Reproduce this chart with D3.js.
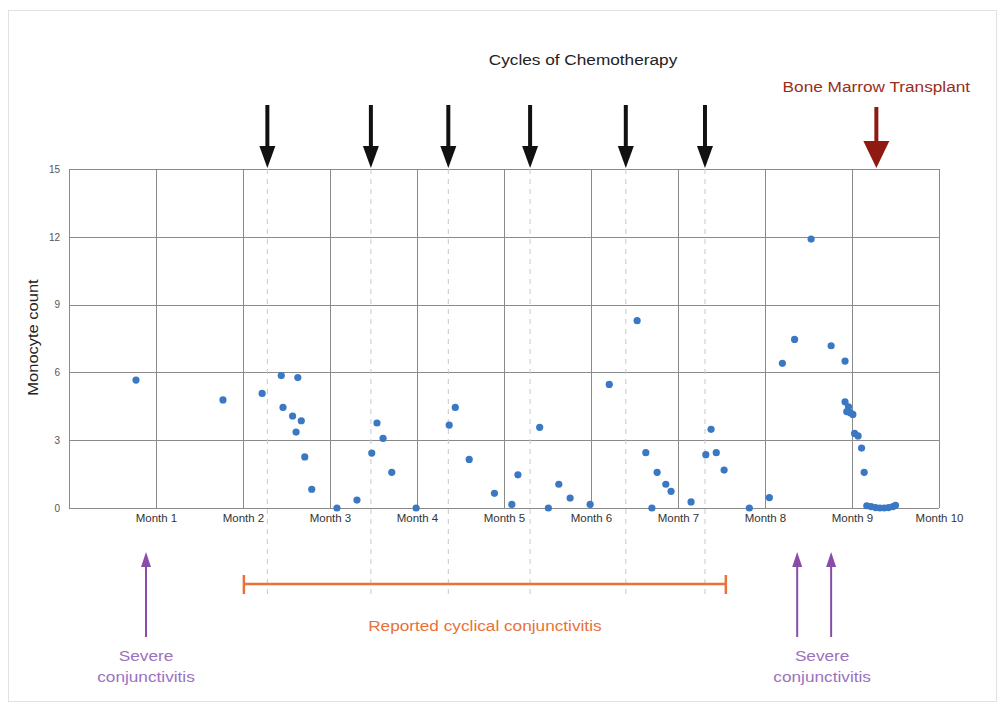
<!DOCTYPE html>
<html><head><meta charset="utf-8">
<script src="https://cdn.jsdelivr.net/npm/d3@7"></script>
<style>body{margin:0;background:#fff}svg{display:block;font-family:"Liberation Sans",Arial,sans-serif}</style>
</head><body><svg id="c" width="1004" height="706"></svg>
<script>
const months = [0.77,1.77,2.22,2.44,2.63,2.46,2.57,2.67,2.61,2.71,2.79,3.08,3.31,3.54,3.61,3.48,3.71,3.99,4.44,4.37,4.60,
4.89,5.09,5.16,5.41,5.51,5.63,5.76,5.99,6.21,6.53,6.63,6.70,6.76,6.86,6.92,7.15,7.32,7.38,7.44,7.53,
7.82,8.05,8.20,8.34,8.53,8.76,8.92,8.92,8.96,8.94,8.98,9.01,9.03,9.07,9.11,9.14,9.17,9.22,9.27,9.32,9.37,9.42,9.47,9.50];
const counts = [5.66,4.78,5.07,5.86,5.77,4.45,4.07,3.86,3.36,2.26,0.83,0,0.35,3.76,3.08,2.43,1.58,0,4.45,3.67,2.15,
0.65,0.16,1.47,3.57,0,1.05,0.44,0.16,5.47,8.29,2.45,0,1.58,1.05,0.74,0.27,2.36,3.48,2.45,1.68,
0,0.46,6.4,7.46,11.9,7.18,6.5,4.7,4.48,4.26,4.22,4.14,3.3,3.19,2.65,1.58,0.1,0.06,0.02,0,0,0.02,0.06,0.12];
const yTicks = [0,3,6,9,12,15];
const monthTicks = [1,2,3,4,5,6,7,8,9,10];
const monthLabels = monthTicks.map(m => "Month " + m);
const chemoCycles = [2.28,3.47,4.36,5.30,6.40,7.31];
const transplant = [9.28];
const severeEvents = [0.885,8.37,8.76];
const cyclicalSpan = [2.01,7.55];

const svg = d3.select("#c");
svg.append("rect").attr("x",8.5).attr("y",10.5).attr("width",988).attr("height",691)
  .attr("fill","none").attr("stroke","#e2e2e2");

const x = d3.scaleLinear().domain([0,10]).range([69,939]);
const y = d3.scaleLinear().domain([0,15]).range([508,169]);

function stext(cx, cy, s, size, fill, str){
  return svg.append("text").attr("transform",`translate(${cx},${cy}) scale(${s},1)`)
    .attr("text-anchor","middle").attr("font-size",size).attr("fill",fill).text(str);
}

// grid
const g = svg.append("g");
g.selectAll(".hg").data(yTicks).join("line")
  .attr("x1",x(0)).attr("x2",x(10)).attr("y1",d=>Math.round(y(d))+0.5).attr("y2",d=>Math.round(y(d))+0.5)
  .attr("stroke","#8a8a8a").attr("stroke-width",1);
g.selectAll(".vg").data([0].concat(monthTicks)).join("line")
  .attr("x1",d=>Math.round(x(d))+0.5).attr("x2",d=>Math.round(x(d))+0.5).attr("y1",y(15)).attr("y2",y(0))
  .attr("stroke","#8a8a8a").attr("stroke-width",1);

// dashed chemo lines
g.selectAll(".dl").data(chemoCycles).join("line")
  .attr("x1",d=>x(d)).attr("x2",d=>x(d)).attr("y1",y(15)).attr("y2",596)
  .attr("stroke","#c8c8c8").attr("stroke-dasharray","5,5").attr("stroke-width",1);

// y axis labels
const yAxis = d3.axisLeft(y).tickValues(yTicks).tickSize(0).tickPadding(9);
svg.append("g").attr("transform",`translate(${x(0)},0)`).call(yAxis)
  .call(s=>s.select(".domain").remove())
  .call(s=>s.selectAll("text").attr("font-size",10).attr("fill","#555").attr("font-family","Liberation Sans, Arial, sans-serif"));

// x axis labels
const xAxis = d3.axisBottom(x).tickValues(monthTicks).tickFormat((d,i)=>monthLabels[i]).tickSize(0).tickPadding(7);
svg.append("g").attr("transform",`translate(0,${y(0)})`).call(xAxis)
  .call(s=>s.select(".domain").remove())
  .call(s=>s.selectAll("text").attr("font-size",10).attr("fill","#333").attr("transform","scale(1.15,1)")
    .attr("font-family","Liberation Sans, Arial, sans-serif"));

// y label
svg.append("text").attr("transform",`translate(38,${y(7.5)-1}) rotate(-90) scale(1.1,1)`).attr("text-anchor","middle")
  .attr("font-size",15).attr("fill","#222").text("Monocyte count");

// points
svg.append("g").selectAll("circle").data(months.map((m,i)=>[m,counts[i]])).join("circle")
  .attr("cx",d=>x(d[0])).attr("cy",d=>y(d[1])).attr("r",3.6).attr("fill","#3b78c4");

// title
stext(583, 65, 1.23, 14, "#222", "Cycles of Chemotherapy");

// chemo arrows
const ca = svg.append("g");
chemoCycles.forEach(c=>{
  const cx = x(c);
  ca.append("line").attr("x1",cx).attr("x2",cx).attr("y1",105).attr("y2",150).attr("stroke","#111").attr("stroke-width",4);
  ca.append("path").attr("d",`M${cx-8},146 L${cx+8},146 L${cx},168 Z`).attr("fill","#111");
});

// transplant arrow
transplant.forEach(t=>{
  const tx = x(t);
  svg.append("line").attr("x1",tx).attr("x2",tx).attr("y1",107).attr("y2",145).attr("stroke","#8e1a12").attr("stroke-width",4);
  svg.append("path").attr("d",`M${tx-13},141 L${tx+13},141 L${tx},168 Z`).attr("fill","#8e1a12");
  stext(tx, 92, 1.23, 14, "#9a2d20", "Bone Marrow Transplant");
});

// severe conjunctivitis arrows
const purple = "#8a4ca8";
severeEvents.forEach(s=>{
  const sx = x(s);
  svg.append("line").attr("x1",sx).attr("x2",sx).attr("y1",563).attr("y2",637).attr("stroke",purple).attr("stroke-width",2);
  svg.append("path").attr("d",`M${sx-5},567 L${sx+5},567 L${sx},552 Z`).attr("fill",purple);
});
function severeLabel(cx){
  stext(cx, 661, 1.23, 14, "#9a72c0", "Severe");
  stext(cx, 682, 1.23, 14, "#9a72c0", "conjunctivitis");
}
severeLabel(x(severeEvents[0]));
severeLabel((x(severeEvents[1])+x(severeEvents[2]))/2 + 8);

// cyclical conjunctivitis bracket
const orange = "#e8723a";
const x0 = x(cyclicalSpan[0]), x1 = x(cyclicalSpan[1]);
svg.append("line").attr("x1",x0).attr("x2",x1).attr("y1",584).attr("y2",584).attr("stroke",orange).attr("stroke-width",2.5);
[x0,x1].forEach(xx=>svg.append("line").attr("x1",xx).attr("x2",xx).attr("y1",575).attr("y2",594).attr("stroke",orange).attr("stroke-width",2.5));
stext((x0+x1)/2, 631, 1.23, 14, orange, "Reported cyclical conjunctivitis");
</script></body></html>
